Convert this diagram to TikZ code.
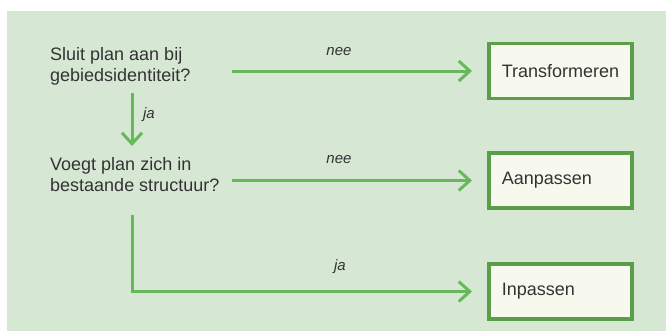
\documentclass[tikz,border=0pt]{standalone}
\usepackage{fontspec}
\setmainfont{Liberation Sans}
\usetikzlibrary{arrows.meta}
\definecolor{bggreen}{HTML}{D6E8D4}
\definecolor{linegreen}{HTML}{66B85A}
\definecolor{boxgreen}{HTML}{5A9E4A}
\definecolor{boxfill}{HTML}{F7F9EE}
\definecolor{txt}{HTML}{333333}
\tikzset{
  question/.style={inner sep=0pt, align=left, anchor=north west, text=txt,
    font=\fontsize{18bp}{21bp}\selectfont},
  outcome/.style={draw=boxgreen, line width=3.5bp, fill=boxfill, anchor=west,
    minimum height=55bp, text width=117bp, inner xsep=13bp, align=left,
    text=txt, font=\fontsize{18bp}{21bp}\selectfont},
  arr/.style={draw=linegreen, line width=3bp,
    -{Straight Barb[length=11bp,width=20bp,line width=3bp]}},
  lbl/.style={inner sep=0pt, text=txt, font=\fontsize{15bp}{17bp}\selectfont\itshape},
}
\begin{document}
\begin{tikzpicture}[x=1bp,y=-1bp]
\useasboundingbox (0,0) rectangle (668,331);
\fill[white] (0,0) rectangle (668,331);
\fill[bggreen] (7,11) rectangle (666,331);
% questions
\node[question] (q1) at (50,47) {Sluit plan aan bij\\gebiedsidentiteit?};
\node[question] (q2) at (50,157) {Voegt plan zich in\\bestaande structuur?};
% outcomes
\node[outcome] (t) at (487,71) {Transformeren};
\node[outcome] (a) at (487,180.5) {Aanpassen};
\node[outcome] (i) at (487,291.5) {Inpassen};
% connector anchors
\coordinate (s1) at (232,71);
\coordinate (s2) at (232,180.5);
\coordinate (d1) at (132,93);
\coordinate (d2) at (132,146);
\coordinate (s3) at (132,215);
% connectors
\draw[arr, shorten >=15bp] (s1) -- (t.west);
\draw[arr, shorten >=15bp] (s2) -- (a.west);
\draw[arr] (d1) -- (d2);
\draw[arr, shorten >=15bp] (s3) |- (i.west);
% labels
\node[lbl] (n1) at (339,52) {nee};
\node[lbl] (n2) at (339,160) {nee};
\node[lbl] (j1) at (149,115) {ja};
\node[lbl] (j2) at (340,267) {ja};
\end{tikzpicture}
\end{document}
